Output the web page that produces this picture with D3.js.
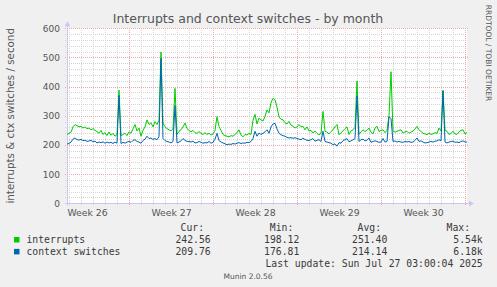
<!DOCTYPE html>
<meta charset="utf-8">
<script src="https://d3js.org/d3.v7.min.js"></script>
<style>
  body { margin: 0; background: #f0f0f0; }
  svg { display: block; }
  text { font-family: "DejaVu Sans", sans-serif; fill: #555; }
  .mono { font-family: "DejaVu Sans Mono", monospace; font-size: 9.75px; fill: #3a3a3a; }
</style>
<div id="chart"></div>
<script>
// one point every 4 hours, from Jun 23 20:00 to Jul 27 04:00
const start = new Date(2025, 5, 23, 20);
const stepHours = 4;

const interrupts = [
  236, 240, 244, 262, 270, 266, 262, 264, 258, 262, 256, 258, 252, 256, 250, 246, 240, 250, 236, 242,
  232, 245, 233, 240, 230, 236, 388, 232, 236, 240, 232, 245, 240, 255, 270, 248, 258, 230, 250, 262,
  286, 270, 276, 262, 280, 270, 285, 519, 275, 262, 256, 252, 248, 255, 394, 236, 247, 252, 262, 275,
  256, 250, 245, 250, 242, 240, 246, 240, 236, 242, 236, 240, 234, 238, 250, 297, 263, 250, 236, 232,
  230, 228, 232, 230, 236, 242, 252, 234, 228, 236, 234, 240, 236, 285, 305, 272, 292, 286, 282, 298,
  320, 310, 345, 360, 355, 330, 296, 288, 286, 276, 272, 281, 268, 264, 258, 262, 270, 262, 264, 252,
  262, 248, 250, 241, 248, 240, 235, 240, 315, 247, 244, 238, 246, 252, 262, 270, 235, 242, 248, 256,
  262, 236, 248, 252, 260, 419, 236, 245, 252, 246, 250, 258, 244, 238, 258, 264, 246, 250, 252, 242,
  250, 300, 451, 248, 244, 247, 250, 252, 241, 245, 247, 240, 244, 248, 255, 264, 252, 246, 240, 238,
  235, 241, 236, 238, 242, 240, 258, 248, 388, 250, 247, 236, 240, 247, 238, 236, 245, 250, 252, 238,
  243
];
const ctxSwitches = [
  203, 205, 210, 220, 224, 218, 217, 219, 215, 216, 212, 214, 216, 211, 213, 207, 210, 208, 211, 206,
  210, 207, 209, 205, 210, 206, 370, 205, 209, 206, 210, 212, 209, 216, 218, 212, 210, 206, 215, 220,
  230, 222, 224, 219, 222, 218, 228, 497, 222, 215, 212, 210, 207, 212, 335, 207, 210, 214, 222, 216,
  212, 212, 210, 213, 207, 208, 212, 209, 206, 208, 207, 212, 206, 209, 220, 240, 215, 210, 207, 204,
  201, 203, 202, 205, 203, 206, 208, 205, 207, 206, 209, 208, 212, 222, 247, 230, 241, 236, 240, 245,
  252, 240, 262, 272, 274, 255, 240, 235, 232, 230, 226, 224, 225, 223, 225, 222, 220, 218, 223, 219,
  216, 215, 218, 222, 213, 216, 218, 212, 247, 212, 210, 208, 206, 201, 204, 196, 208, 206, 215, 218,
  222, 211, 214, 218, 222, 368, 212, 218, 220, 214, 216, 224, 209, 212, 214, 212, 209, 210, 222, 210,
  212, 297, 290, 212, 214, 210, 212, 210, 209, 212, 210, 212, 209, 210, 216, 224, 212, 214, 210, 207,
  208, 210, 212, 210, 213, 214, 218, 214, 385, 210, 207, 210, 212, 213, 209, 210, 208, 212, 214, 210,
  210
];

const yTicks = [0, 100, 200, 300, 400, 500, 600];
const weekLabels = ["Week 26", "Week 27", "Week 28", "Week 29", "Week 30"];
const weekMiddles = [
  new Date(2025, 5, 25, 12), new Date(2025, 6, 2, 12), new Date(2025, 6, 9, 12),
  new Date(2025, 6, 16, 12), new Date(2025, 6, 23, 12)
];

const legendRows = [
  { name: "interrupts", color: "#00cc00", cur: "242.56", min: "198.12", avg: "251.40", max: "5.54k" },
  { name: "context switches", color: "#0066b3", cur: "209.76", min: "176.81", avg: "214.14", max: "6.18k" }
];

const width = 497, height = 287;
const plot = { left: 67, right: 467, top: 28.3, bottom: 203.3 };

const svg = d3.select("#chart").append("svg")
  .attr("width", width)
  .attr("height", height);

const times = interrupts.map((d, i) => d3.timeHour.offset(start, i * stepHours));
const end = times[times.length - 1];

const x = d3.scaleTime()
  .domain([start, end])
  .range([plot.left, plot.right]);
const y = d3.scaleLinear()
  .domain([0, 600])
  .range([plot.bottom, plot.top]);

// plot background
svg.append("rect")
  .attr("x", plot.left).attr("y", plot.top)
  .attr("width", plot.right - plot.left).attr("height", plot.bottom - plot.top)
  .attr("fill", "#fff");

// minor grid
const days = d3.timeDay.range(d3.timeDay.ceil(start), end);
const weeks = d3.timeSunday.range(d3.timeSunday.ceil(start), d3.timeHour.offset(end, 1));
const minorY = d3.range(20, 601, 20).filter(v => v % 100 !== 0);

const grid = svg.append("g").attr("shape-rendering", "crispEdges");
grid.selectAll(".vday")
  .data(days.filter(d => d.getDay() !== 0))
  .join("line")
    .attr("x1", d => Math.round(x(d)) + 0.5).attr("x2", d => Math.round(x(d)) + 0.5)
    .attr("y1", plot.top).attr("y2", plot.bottom + 2)
    .attr("stroke", "#d4d4d4")
    .attr("stroke-dasharray", "1,1");
grid.selectAll(".hminor")
  .data(minorY)
  .join("line")
    .attr("x1", plot.left - 2).attr("x2", plot.right)
    .attr("y1", d => Math.round(y(d)) + 0.5).attr("y2", d => Math.round(y(d)) + 0.5)
    .attr("stroke", "#d4d4d4")
    .attr("stroke-dasharray", "1,1");

// major grid
grid.selectAll(".vweek")
  .data(weeks)
  .join("line")
    .attr("x1", d => Math.round(x(d)) + 0.5).attr("x2", d => Math.round(x(d)) + 0.5)
    .attr("y1", plot.top).attr("y2", plot.bottom + 2)
    .attr("stroke", "#e8a8a8")
    .attr("stroke-dasharray", "1,1");
grid.selectAll(".hmajor")
  .data(yTicks.filter(d => d > 0))
  .join("line")
    .attr("x1", plot.left - 2).attr("x2", plot.right + 1)
    .attr("y1", d => Math.round(y(d)) + 0.5).attr("y2", d => Math.round(y(d)) + 0.5)
    .attr("stroke", "#e8a8a8")
    .attr("stroke-dasharray", "1,1");

// y tick labels
const yAxis = svg.append("g")
  .attr("transform", `translate(${plot.left},0)`)
  .call(d3.axisLeft(y).tickValues(yTicks).tickSize(0).tickPadding(7));
yAxis.select(".domain").remove();
yAxis.selectAll("text")
  .style("font-family", "DejaVu Sans, sans-serif")
  .style("font-size", "9px")
  .attr("fill", "#555");

// x labels
const xAxis = svg.append("g")
  .attr("transform", `translate(0,${plot.bottom})`)
  .call(d3.axisBottom(x).tickValues(weekMiddles).tickSize(0).tickPadding(6)
    .tickFormat((d, i) => weekLabels[i]));
xAxis.select(".domain").remove();
xAxis.selectAll("text")
  .style("font-family", "DejaVu Sans, sans-serif")
  .style("font-size", "9.3px")
  .attr("fill", "#555");

// axes lines with arrows
const axisColor = "#c8c8f0";
svg.append("line")
  .attr("x1", plot.left - 2).attr("x2", plot.right + 2)
  .attr("y1", Math.round(plot.bottom) + 0.5).attr("y2", Math.round(plot.bottom) + 0.5)
  .attr("stroke", axisColor);
svg.append("path")
  .attr("d", `M${plot.right + 2},${Math.round(plot.bottom) - 2.5} L${plot.right + 7},${Math.round(plot.bottom) + 0.5} L${plot.right + 2},${Math.round(plot.bottom) + 3.5} Z`)
  .attr("fill", axisColor);
svg.append("line")
  .attr("x1", plot.left + 0.5).attr("x2", plot.left + 0.5)
  .attr("y1", plot.bottom + 2).attr("y2", plot.top - 2)
  .attr("stroke", axisColor);
svg.append("path")
  .attr("d", `M${plot.left - 2.5},${plot.top - 2} L${plot.left + 0.5},${plot.top - 7} L${plot.left + 3.5},${plot.top - 2} Z`)
  .attr("fill", axisColor);

// series
const line = values => d3.line()
  .x((d, i) => x(times[i]))
  .y(d => y(d))(values);

svg.append("path")
  .attr("d", line(interrupts))
  .attr("fill", "none")
  .attr("stroke", legendRows[0].color)
  .attr("stroke-width", 1);
svg.append("path")
  .attr("d", line(ctxSwitches))
  .attr("fill", "none")
  .attr("stroke", legendRows[1].color)
  .attr("stroke-width", 1);

// title
svg.append("text")
  .attr("x", 248).attr("y", 23)
  .attr("text-anchor", "middle")
  .style("font-size", "12.5px")
  .attr("fill", "#505050")
  .text("Interrupts and context switches - by month");

// y-axis title
svg.append("text")
  .attr("transform", `translate(13.5,${(plot.top + plot.bottom) / 2}) rotate(-90)`)
  .attr("text-anchor", "middle")
  .style("font-size", "10.3px")
  .text("interrupts & ctx switches / second");

// rrdtool credit
svg.append("text")
  .attr("transform", "translate(486,53) rotate(90)")
  .attr("text-anchor", "middle")
  .style("font-size", "7.5px")
  .attr("fill", "#c8c8c8")
  .text("RRDTOOL / TOBI OETIKER");

// legend
const cols = [
  { key: "cur", head: "Cur:", right: 210.7, headRight: 204 },
  { key: "min", head: "Min:", right: 299.3, headRight: 293.3 },
  { key: "avg", head: "Avg:", right: 387.3, headRight: 381 },
  { key: "max", head: "Max:", right: 482.7, headRight: 470 }
];
cols.forEach(c => {
  svg.append("text").attr("class", "mono")
    .attr("x", c.headRight).attr("y", 230.5)
    .attr("text-anchor", "end")
    .text(c.head);
});
legendRows.forEach((r, i) => {
  const yy = 243.3 + i * 11.9;
  svg.append("rect")
    .attr("x", 14).attr("y", yy - 6.3)
    .attr("width", 5.5).attr("height", 5.5)
    .attr("fill", r.color);
  svg.append("text").attr("class", "mono")
    .attr("x", 26.5).attr("y", yy)
    .text(r.name);
  cols.forEach(c => {
    svg.append("text").attr("class", "mono")
      .attr("x", c.right).attr("y", yy)
      .attr("text-anchor", "end")
      .text(r[c.key]);
  });
});
svg.append("text").attr("class", "mono")
  .attr("x", 482.7).attr("y", 267)
  .attr("text-anchor", "end")
  .text("Last update: Sun Jul 27 03:00:04 2025");

svg.append("text")
  .attr("x", 248).attr("y", 279)
  .attr("text-anchor", "middle")
  .style("font-size", "7.5px")
  .attr("fill", "#c0c0c0")
  .text("Munin 2.0.56");
</script>
